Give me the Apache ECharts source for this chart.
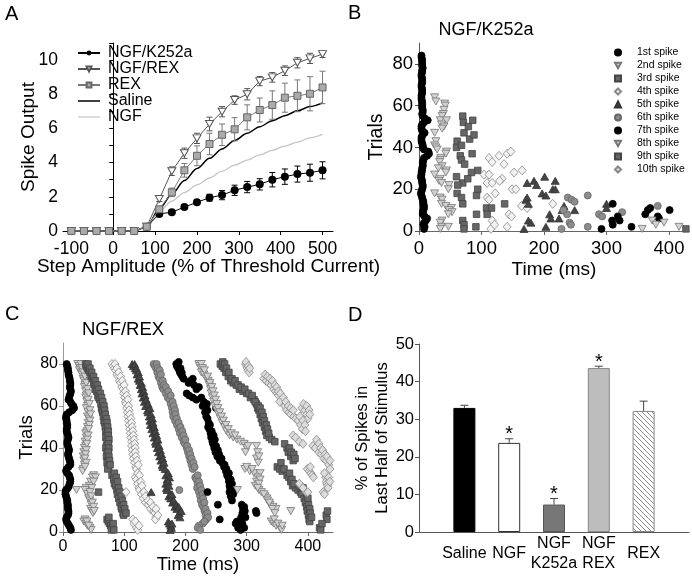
<!DOCTYPE html>
<html><head><meta charset="utf-8">
<script src="https://cdn.jsdelivr.net/npm/echarts@6/dist/echarts.min.js"></script>
<style>html,body{margin:0;padding:0;background:#fff}#c{width:692px;height:582px}</style>
</head><body><div id="c"></div><script>
// ---------- Panel A data ----------
const aX = [-100,-70,-40,-10,20,50,80,110,140,170,200,230,260,290,320,350,380,410,440,470,500];
const aK252a    = [0,0,0,0,0,0,0.25,1.0,1.1,1.4,1.68,1.95,2.1,2.38,2.57,2.73,3.0,3.18,3.33,3.41,3.55];
const aK252aErr = [0,0,0,0,0,0,0.05,0.08,0.08,0.1,0.12,0.2,0.27,0.3,0.33,0.33,0.42,0.45,0.47,0.5,0.5];
const aNgfRex    = [0,0,0,0,0,0,0.25,1.87,3.5,4.55,5.42,6.26,6.98,7.66,8.0,8.77,8.99,9.38,9.84,10.1,10.35];
const aNgfRexErr = [0,0,0,0,0,0,0.05,0.15,0.25,0.3,0.3,0.4,0.3,0.25,0.33,0.27,0.28,0.28,0.3,0.3,0.2];
const aRex    = [0,0,0,0,0,0,0.25,1.27,2.26,3.55,4.4,5.09,5.63,5.95,6.65,7.08,7.37,7.8,7.91,8.03,8.4];
const aRexErr = [0,0,0,0,0,0,0.05,0.1,0.25,0.4,0.58,0.63,0.63,0.68,0.73,0.7,0.83,0.85,0.93,1.0,0.95];
const aSaline = [0,0,0,0,0,0,0.25,1.3,2.15,2.95,3.65,4.25,4.8,5.3,5.72,6.1,6.45,6.75,7.03,7.28,7.5];
const aNgf    = [0,0,0,0,0,0,0.25,1.15,1.75,2.25,2.7,3.1,3.5,3.85,4.15,4.45,4.72,4.97,5.2,5.45,5.65];
const aXTicks = [-100,0,100,200,300,400,500];
const aYLabels = [0,2,4,6,8,10];
const aYTicks = [0,1,2,3,4,5,6,7,8,9,10,11];

// ---------- Panel B data (time ms, trial) ----------
const spikeNames = ['1st spike','2nd spike','3rd spike','4th spike','5th spike','6th spike','7th spike','8th spike','9th spike','10th spike'];
const bS1 = [[4,84],[4,83],[5,82],[5,81],[5,80],[5,79],[6,78],[5,77],[5,76],[4,75],[4,74],[5,73],[5,72],[5,71],[4,70],[4,69],[5,68],[5,67],[5,66],[4,65],[4,64],[4,63],[5,62],[5,61],[5,60],[5,59],[6,58],[6,57],[5,56],[6,55],[9,54],[14,53],[8,52],[5,51],[4,50],[4,49],[5,48],[9,47],[6,46],[4,45],[4,44],[4,43],[5,42],[6,41],[6,40],[8,39],[15,38],[16,37],[13,36],[8,35],[7,34],[6,33],[6,32],[6,31],[5,30],[5,29],[4,28],[4,27],[3,26],[4,25],[5,24],[5,23],[6,22],[6,21],[5,20],[4,19],[3,18],[4,17],[5,16],[6,15],[7,14],[7,13],[8,12],[8,11],[7,10],[6,9],[6,8],[9,7],[13,6],[11,5],[8,4],[7,3],[9,2],[8,1]];
const bS2 = [[25,64],[27,62],[41,61],[42,60],[40,58],[39,56],[37,55],[34,53],[44,53],[36,51],[40,50],[37,49],[25,47],[27,43],[25,41],[27,40],[29,39],[44,38],[43,37],[35,35],[34,34],[33,33],[37,31],[31,30],[44,29],[43,28],[25,27],[34,25],[32,24],[36,23],[48,22],[47,20],[25,18],[34,16],[37,15],[36,13],[43,12],[52,11],[48,10],[53,9],[47,8],[37,5],[34,4],[36,2],[34,1],[47,2]];
const bS3 = [[70,55],[71,52],[72,47],[81,44],[86,53],[88,46],[61,43],[60,40],[68,41],[79,50],[85,37],[66,36],[68,34],[73,32],[94,29],[84,28],[60,26],[70,23],[78,25],[62,22],[94,20],[61,18],[92,17],[68,16],[70,13],[108,11],[109,8],[116,11],[92,8],[70,5],[72,3],[91,2],[72,1],[137,13]];
const bS4 = [[112,35],[128,36],[141,37],[147,38],[117,33],[136,32],[152,28],[165,29],[104,27],[112,27],[133,25],[129,24],[109,23],[117,23],[149,20],[155,20],[122,18],[109,16],[112,15],[164,12],[173,11],[144,8],[148,7],[117,5],[115,1],[141,2],[121,3],[214,13]];
const bS5 = [[173,23],[184,24],[188,22],[201,26],[218,24],[197,18],[203,17],[214,20],[218,20],[171,15],[173,16],[175,13],[209,8],[211,6],[175,5],[179,4],[203,2],[168,1],[224,6],[232,12],[249,10],[229,10],[300,13],[300,11]];
const bS6 = [[228,1],[238,16],[244,15],[249,14],[241,4],[243,3],[270,17],[270,2],[288,8],[293,7],[325,9],[382,12],[237,8],[231,10]];
const bS7 = [[310,13],[309,5],[310,3],[321,5],[340,2],[292,1],[362,8],[366,10],[370,11],[382,7],[384,6],[401,10],[318,7]];
const bS8 = [[357,1],[373,5],[379,3],[392,4],[416,2]];
const bS9 = [[427,1]];
const bS10 = [];

// ---------- Panel C data (time ms, trial) ----------
const cS1 = [[6,80],[7,79],[8,78],[8,77],[9,76],[9,75],[10,74],[11,73],[11,72],[12,71],[12,70],[11,69],[12,68],[13,67],[12,66],[11,65],[10,64],[9,63],[12,62],[14,61],[17,60],[18,59],[15,58],[10,57],[6,56],[5,55],[5,54],[6,53],[6,52],[7,51],[7,50],[6,49],[6,48],[7,47],[8,46],[9,45],[8,44],[7,43],[7,42],[8,41],[9,40],[10,39],[9,38],[8,37],[9,36],[10,35],[11,34],[12,33],[12,32],[9,31],[6,30],[5,29],[7,28],[10,27],[11,26],[12,25],[12,24],[11,23],[10,22],[8,21],[5,20],[4,19],[4,18],[5,17],[6,16],[7,15],[7,14],[8,13],[8,12],[8,11],[9,10],[9,9],[8,8],[6,7],[5,6],[6,5],[8,4],[10,3],[12,2],[13,1]];
const cS2 = [[24,80],[26,79],[28,78],[27,77],[30,76],[31,75],[33,73],[34,72],[36,70],[35,69],[37,67],[38,65],[37,64],[39,62],[40,60],[38,59],[41,57],[40,55],[42,54],[41,52],[40,50],[39,48],[37,47],[38,45],[36,43],[37,41],[35,40],[34,38],[33,36],[34,34],[35,32],[33,30],[32,29],[50,27],[48,26],[45,24],[43,22],[38,21],[36,20],[22,20],[40,18],[42,16],[44,15],[46,13],[45,11],[47,10],[49,9],[36,6],[34,5],[38,4],[40,3],[44,2],[46,1],
  [29,80],[31,78],[33,76],[36,74],[38,71],[40,68],[42,66],[41,63],[43,61],[44,58],[45,56],[44,53],[43,51],[42,49],[41,46],[40,44],[39,42],[38,39],[37,37],[36,35],[38,33],[36,31],[53,26],[50,24],[47,21],[44,19],[46,17],[48,14],[50,12],[51,10],[39,5],[42,3]];
const cS3 = [[37,80],[38,79],[40,78],[42,77],[44,76],[46,74],[48,73],[50,71],[52,70],[53,68],[55,67],[57,65],[58,64],[60,63],[62,61],[63,59],[64,58],[65,57],[66,55],[67,53],[68,52],[69,50],[70,48],[71,46],[70,45],[72,43],[71,41],[70,40],[72,38],[71,36],[73,34],[72,33],[74,31],[73,30],[80,27],[83,25],[84,23],[86,22],[88,20],[58,19],[89,18],[91,16],[93,14],[95,12],[96,11],[98,9],[99,8],[72,6],[74,5],[76,4],[78,3],[80,2],[79,1],
  [41,80],[44,78],[47,76],[50,74],[53,72],[56,70],[58,68],[61,66],[63,64],[65,62],[67,60],[68,58],[69,56],[71,54],[72,52],[73,50],[74,48],[74,46],[75,44],[74,42],[75,40],[74,38],[75,36],[76,34],[77,32],[84,28],[87,26],[89,24],[91,21],[93,19],[95,17],[97,15],[99,13],[101,11],[103,9],[75,7],[82,4],[83,1]];
const cS4 = [[80,80],[82,79],[84,78],[86,77],[88,75],[90,74],[92,72],[94,71],[96,69],[98,68],[99,66],[101,64],[102,62],[103,61],[104,59],[105,57],[106,55],[107,53],[108,51],[109,49],[110,47],[111,45],[112,43],[112,41],[113,39],[114,37],[115,35],[117,33],[119,31],[120,30],[118,26],[120,25],[122,23],[124,21],[125,20],[103,19],[128,18],[131,16],[135,14],[139,13],[143,11],[148,10],[150,9],[152,7],[151,6],[114,6],[116,4],[120,2],[122,1],
  [85,80],[88,78],[91,76],[94,74],[97,72],[100,70],[102,67],[104,65],[106,63],[107,60],[108,58],[109,56],[111,54],[112,52],[113,50],[114,48],[115,46],[116,44],[117,42],[118,40],[118,38],[119,36],[121,34],[123,32],[122,28],[125,27],[127,24],[129,22],[132,19],[135,17],[139,15],[143,14],[147,12],[152,11],[155,8],[118,5],[124,3]];
const cS5 = [[113,80],[115,79],[118,78],[120,77],[121,75],[123,73],[125,72],[126,70],[128,68],[129,66],[131,64],[133,62],[135,60],[138,58],[139,57],[141,55],[142,53],[143,51],[145,49],[147,47],[149,45],[151,43],[152,42],[154,40],[156,38],[158,36],[160,34],[162,32],[163,31],[168,27],[170,25],[168,23],[169,21],[170,20],[144,19],[173,17],[176,16],[179,14],[183,12],[186,11],[190,9],[188,8],[172,5],[174,4],[176,3],[177,2],[175,1],
  [117,80],[120,78],[123,76],[125,74],[128,71],[130,69],[132,67],[134,65],[136,63],[139,61],[142,59],[144,56],[146,54],[147,52],[149,50],[151,48],[153,46],[155,44],[157,41],[159,39],[161,37],[163,35],[165,33],[167,30],[172,28],[174,26],[172,24],[173,22],[175,18],[178,18],[181,15],[185,13],[189,12],[193,10],[191,7],[178,4]];
const cS6 = [[148,80],[150,79],[152,78],[154,76],[156,74],[158,73],[160,71],[162,69],[164,68],[168,66],[171,64],[174,63],[176,61],[178,59],[179,57],[180,55],[183,53],[186,51],[189,49],[191,47],[194,45],[197,43],[199,42],[202,40],[204,38],[206,36],[208,34],[210,32],[212,30],[216,26],[218,25],[220,23],[219,21],[190,20],[222,19],[224,17],[225,15],[227,13],[229,12],[231,10],[233,8],[234,6],[228,4],[222,3],[220,2],[224,1],
  [153,80],[155,78],[158,77],[160,75],[163,72],[165,70],[168,69],[172,67],[176,65],[179,62],[181,60],[183,58],[184,56],[186,54],[189,52],[192,50],[195,48],[197,46],[200,44],[203,41],[206,39],[208,37],[210,35],[213,33],[215,31],[220,27],[222,24],[224,22],[226,20],[228,18],[229,16],[231,14],[233,11],[236,9],[237,7],[231,5]];
const cS7 = [[185,80],[186,79],[188,78],[190,77],[191,76],[193,75],[195,74],[212,73],[208,72],[205,71],[214,70],[222,69],[218,68],[202,66],[206,65],[212,64],[226,64],[218,63],[230,62],[235,61],[228,60],[250,59],[236,58],[232,57],[234,55],[236,54],[238,52],[237,50],[239,49],[241,47],[242,45],[244,43],[245,42],[247,40],[249,38],[252,36],[256,34],[260,33],[263,31],[266,29],[268,27],[270,26],[271,24],[272,22],[273,21],[272,19],[236,19],[274,17],[276,15],[253,13],[292,13],[294,11],[293,9],[315,10],[316,9],[295,8],[291,7],[256,6],[284,5],[282,4],[288,3],[296,2],[290,1],
  [189,81],[192,78],[194,76],[197,73],[240,51],[243,48],[246,46],[248,44],[250,41],[253,39],[255,37],[259,35],[264,32],[267,30],[271,28],[274,25],[276,23],[277,20],[278,18],[296,12],[297,10],[298,7],[293,4],[286,2]];
const cS8 = [[222,80],[223,79],[225,78],[226,76],[230,75],[234,73],[237,72],[239,70],[241,68],[242,66],[244,64],[246,62],[248,60],[251,58],[254,56],[257,54],[260,52],[264,50],[267,48],[272,46],[278,45],[284,44],[290,43],[296,42],[300,40],[298,38],[316,41],[318,38],[316,35],[297,30],[305,29],[312,28],[322,28],[318,26],[316,24],[314,22],[285,20],[320,20],[324,19],[330,17],[333,16],[338,13],[343,12],[348,11],[372,10],[340,5],[344,4],[348,3],[354,2],[357,1],
  [226,80],[228,78],[231,77],[236,74],[240,71],[243,69],[245,67],[247,65],[249,63],[251,61],[253,59],[256,57],[259,55],[262,53],[266,51],[270,49],[275,47],[281,46],[302,41],[320,36],[319,33],[300,31],[309,30],[322,25],[320,23],[318,21],[328,18],[334,15],[337,14],[342,11],[346,9],[345,6],[351,4],[358,3]];
const cS9 = [[257,80],[260,79],[263,78],[266,76],[270,74],[274,72],[278,71],[283,70],[288,68],[294,67],[300,66],[306,64],[312,63],[316,61],[318,59],[320,58],[322,56],[324,54],[326,52],[329,50],[331,48],[333,46],[337,45],[341,44],[346,43],[366,40],[368,38],[372,36],[376,34],[350,31],[354,30],[358,29],[366,27],[369,26],[372,24],[375,22],[380,21],[384,20],[388,19],[390,18],[394,16],[396,14],[398,12],[399,10],[401,8],[402,6],[403,5],[419,2],[421,1],[430,8],[431,6],
  [261,81],[264,80],[267,78],[271,76],[276,73],[281,72],[286,70],[291,69],[297,68],[303,66],[309,65],[314,62],[319,60],[322,59],[325,57],[327,55],[329,53],[332,51],[334,49],[336,47],[362,42],[370,40],[373,38],[377,37],[379,35],[356,33],[361,30],[370,28],[374,25],[377,23],[386,22],[392,21],[398,18],[400,16],[401,13],[403,11],[404,9],[406,7],[423,4],[432,10]];
const cS10 = [[298,80],[300,79],[301,78],[302,77],[304,76],[328,73],[332,72],[336,71],[340,70],[344,68],[347,67],[350,66],[352,65],[358,63],[354,62],[362,60],[365,58],[369,57],[372,56],[377,55],[380,54],[390,59],[395,58],[398,56],[400,54],[384,53],[388,51],[391,49],[376,46],[380,45],[386,43],[392,42],[408,41],[412,40],[418,38],[422,37],[426,35],[430,34],[434,32],[399,30],[402,29],[405,28],[407,27],[429,26],[430,24],[431,23],[432,22],[433,21],[386,23],[397,19],[425,19],[427,18],
  [299,81],[303,79],[305,78],[330,75],[334,74],[338,73],[342,72],[346,70],[349,69],[352,67],[355,66],[360,64],[364,62],[368,60],[372,59],[376,58],[393,61],[398,60],[402,58],[403,56],[387,55],[392,53],[395,51],[396,48],[414,44],[418,42],[421,40],[424,39],[428,37],[431,36],[436,34],[436,30],[404,31],[409,26],[427,28],[434,26],[436,24],[392,21],[400,19]];
const rasterXLabels = [0,100,200,300,400];
const rasterYLabels = [0,20,40,60,80];

// ---------- Panel D data ----------
const dCats = ['Saline','NGF','NGF\nK252a','NGF\nREX','REX'];
const dVals = [33.0,23.7,7.3,43.6,32.2];
const dErrTop = [33.7,24.8,8.9,44.1,34.8];
const dSig = [0,1,1,1,0];

// ---------- styles ----------
const FONT = '"Liberation Sans", Arial, Helvetica, sans-serif';
const TRI_DOWN = 'path://M0,0L10,0L5,9Z';
const spikeStyles = [
  {symbol:'circle', size:7, color:'#000', border:'#000'},
  {symbol:TRI_DOWN, size:[8,7], color:'#d2d2d2', border:'#777'},
  {symbol:'rect', size:6.5, color:'#666', border:'#444'},
  {symbol:'diamond', size:[8,9], color:'#f2f2f2', border:'#888'},
  {symbol:'triangle', size:[8,7], color:'#444', border:'#333'},
  {symbol:'circle', size:7, color:'#8c8c8c', border:'#666'},
  {symbol:'circle', size:7, color:'#000', border:'#000'},
  {symbol:TRI_DOWN, size:[8,7], color:'#d2d2d2', border:'#777'},
  {symbol:'rect', size:6.5, color:'#666', border:'#444'},
  {symbol:'diamond', size:[8,9], color:'#dcdcdc', border:'#888'}
];
const bData = [bS1,bS2,bS3,bS4,bS5,bS6,bS7,bS8,bS9,bS10];
const cData = [cS1,cS2,cS3,cS4,cS5,cS6,cS7,cS8,cS9,cS10];

// hatch pattern for REX bar
const pat = document.createElement('canvas');
pat.width = 5; pat.height = 5;
(function(){const g = pat.getContext('2d'); g.fillStyle='#fff'; g.fillRect(0,0,5,5);
 g.strokeStyle='#808080'; g.lineWidth=0.9; g.beginPath();
 g.moveTo(-1,-1); g.lineTo(6,6); g.moveTo(-1,4); g.lineTo(1,6); g.moveTo(4,-1); g.lineTo(6,1); g.stroke();})();
const dColors = [
  {color:'#000', borderColor:'#000'},
  {color:'#fff', borderColor:'#333'},
  {color:'#777', borderColor:'#555'},
  {color:'#bdbdbd', borderColor:'#888'},
  {color:{image:pat, repeat:'repeat'}, borderColor:'#888'}
];

const lbl = (size, extra) => Object.assign({color:'#000', fontSize:size, fontFamily:FONT}, extra||{});
const nameStyle = (size, extra) => Object.assign({color:'#000', fontSize:size, fontFamily:FONT}, extra||{});

function errA(color){
  return function(params, api){
    const x = api.value(0), y = api.value(1), e = api.value(2);
    if (!e) return null;
    const p1 = api.coord([x, y - e]), p2 = api.coord([x, y + e]);
    const w = 3, st = {stroke:color, lineWidth:1};
    return {type:'group', children:[
      {type:'line', shape:{x1:p1[0],y1:p1[1],x2:p2[0],y2:p2[1]}, style:st},
      {type:'line', shape:{x1:p1[0]-w,y1:p1[1],x2:p1[0]+w,y2:p1[1]}, style:st},
      {type:'line', shape:{x1:p2[0]-w,y1:p2[1],x2:p2[0]+w,y2:p2[1]}, style:st}
    ]};
  };
}
function errD(params, api){
  const i = api.value(0), top = api.value(1), et = api.value(2), sig = api.value(3);
  const p1 = api.coord([i, top]), p2 = api.coord([i, et]);
  const w = 4, st = {stroke:'#444', lineWidth:1};
  const ch = [
    {type:'line', shape:{x1:p1[0],y1:p1[1],x2:p2[0],y2:p2[1]}, style:st},
    {type:'line', shape:{x1:p2[0]-w,y1:p2[1],x2:p2[0]+w,y2:p2[1]}, style:st}
  ];
  if (sig) ch.push({type:'text', style:{text:'*', x:p1[0], y:p2[1]-4, align:'center', verticalAlign:'middle', fontSize:20, fontFamily:FONT, fill:'#000'}});
  return {type:'group', children:ch};
}
const rows = (ys) => aX.map((x,i) => [x, ys[i]]);
const errRows = (ys, es) => aX.map((x,i) => [x, ys[i], es[i]]);

const series = [
  {name:'Saline', type:'line', xAxisIndex:0, yAxisIndex:0, data:rows(aSaline), symbol:'circle', showSymbol:false, smooth:0.3, smoothMonotone:'x', lineStyle:{color:'#000', width:1.5}, itemStyle:{color:'#000'}, z:2},
  {name:'NGF', type:'line', xAxisIndex:0, yAxisIndex:0, data:rows(aNgf), symbol:'circle', showSymbol:false, smooth:0.3, smoothMonotone:'x', lineStyle:{color:'#c4c4c4', width:1.3}, itemStyle:{color:'#c4c4c4'}, z:2},
  {type:'custom', xAxisIndex:0, yAxisIndex:0, renderItem:errA('#000'), data:errRows(aK252a,aK252aErr), encode:{x:0,y:1}, z:3},
  {type:'custom', xAxisIndex:0, yAxisIndex:0, renderItem:errA('#555'), data:errRows(aNgfRex,aNgfRexErr), encode:{x:0,y:1}, z:3},
  {type:'custom', xAxisIndex:0, yAxisIndex:0, renderItem:errA('#777'), data:errRows(aRex,aRexErr), encode:{x:0,y:1}, z:3},
  {name:'NGF/K252a', type:'line', xAxisIndex:0, yAxisIndex:0, data:rows(aK252a), symbol:'circle', symbolSize:8, lineStyle:{color:'#000', width:1}, itemStyle:{color:'#000'}, z:4},
  {name:'NGF/REX', type:'line', xAxisIndex:0, yAxisIndex:0, data:rows(aNgfRex), symbol:TRI_DOWN, symbolSize:[8,7], lineStyle:{color:'#555', width:1}, itemStyle:{color:'#fff', borderColor:'#555', borderWidth:1}, z:4},
  {name:'REX', type:'line', xAxisIndex:0, yAxisIndex:0, data:rows(aRex), symbol:'rect', symbolSize:7, lineStyle:{color:'#777', width:1}, itemStyle:{color:'#aaa', borderColor:'#666', borderWidth:1}, z:5}
];
spikeStyles.forEach((s, k) => {
  series.push({name:spikeNames[k], type:'scatter', xAxisIndex:1, yAxisIndex:1, data:bData[k], symbol:s.symbol, symbolSize:s.size, itemStyle:{color:s.color, borderColor:s.border, borderWidth:0.8, opacity:1}});
});
spikeStyles.forEach((s, k) => {
  series.push({name:'C ' + spikeNames[k], type:'scatter', xAxisIndex:2, yAxisIndex:2, data:cData[k], symbol:s.symbol, symbolSize:s.size, itemStyle:{color:s.color, borderColor:s.border, borderWidth:0.8, opacity:1}});
});
series.push({type:'bar', xAxisIndex:4, yAxisIndex:4, barWidth:22, data:dVals.map((v,i)=>({value:v, itemStyle:Object.assign({borderWidth:1}, dColors[i])}))});
series.push({type:'custom', xAxisIndex:4, yAxisIndex:4, renderItem:errD, data:dVals.map((v,i)=>[i, v, dErrTop[i], dSig[i]]), encode:{x:0,y:1}, z:5});

const rasterX = (gi, max, size, margin, nameGap, nsize) => ({gridIndex:gi, type:'value', min:0, max:max,
  axisLine:{lineStyle:{color:'#666'}}, axisTick:{customValues:rasterXLabels, length:4, lineStyle:{color:'#666'}},
  axisLabel:lbl(size, {customValues:rasterXLabels, margin:margin}), splitLine:{show:false},
  name:'Time (ms)', nameLocation:'middle', nameGap:nameGap, nameMoveOverlap:false, nameTextStyle:nameStyle(nsize)});
const rasterY = (gi, axisColor, size, margin, nameGap, nsize) => ({gridIndex:gi, type:'value', min:0, max:90,
  axisLine:{show:true, lineStyle:{color:axisColor}}, axisTick:{show:true, customValues:rasterYLabels, length:4, lineStyle:{color:axisColor}},
  axisLabel:lbl(size, {customValues:rasterYLabels, margin:margin}), splitLine:{show:false},
  name:'Trials', nameLocation:'middle', nameGap:nameGap, nameMoveOverlap:false, nameRotate:90, nameTextStyle:nameStyle(nsize)});

const option = {
  animation:false,
  backgroundColor:'#fff',
  textStyle:{fontFamily:FONT},
  grid:[
    {left:63, top:43, width:270, height:188},
    {left:419, top:43, width:270, height:188},
    {left:63, top:343, width:270, height:189},
    {left:419, top:344, width:270, height:188},
    {left:442, top:344, width:224, height:188}
  ],
  xAxis:[
    {gridIndex:0, type:'value', min:-120, max:525, axisLine:{lineStyle:{color:'#000'}},
     axisTick:{customValues:aXTicks, length:4, lineStyle:{color:'#000'}}, axisLabel:lbl(17.5, {customValues:aXTicks, margin:9}),
     splitLine:{show:false}, name:'Step Amplitude (% of Threshold Current)', nameLocation:'middle', nameGap:26, nameMoveOverlap:false,
     nameTextStyle:nameStyle(19, {padding:[0,0,0,21]})},
    rasterX(1, 432, 18.5, 8, 29, 19),
    rasterX(2, 441, 16, 7, 23, 18.5),
    {gridIndex:3, type:'value', min:0, max:1, axisLine:{lineStyle:{color:'#555'}}, axisTick:{show:false}, axisLabel:{show:false}, splitLine:{show:false}},
    {gridIndex:4, type:'category', data:dCats, axisLine:{show:false}, axisTick:{show:false},
     axisLabel:lbl(16, {margin:22, verticalAlign:'middle', lineHeight:20, interval:0})}
  ],
  yAxis:[
    {gridIndex:0, type:'value', min:0, max:11, axisLine:{show:true, lineStyle:{color:'#000'}},
     axisTick:{show:true, customValues:aYTicks, length:4, lineStyle:{color:'#000'}}, axisLabel:lbl(17.5, {customValues:aYLabels, margin:5}),
     splitLine:{show:false}, name:'Spike Output', nameLocation:'middle', nameGap:25, nameMoveOverlap:false, nameRotate:90, nameTextStyle:nameStyle(19)},
    rasterY(1, '#555', 18.5, 6, 32, 19.5),
    rasterY(2, '#999', 16, 5, 27, 18.5),
    {gridIndex:3, type:'value', min:0, max:50, interval:10, axisLine:{show:true, lineStyle:{color:'#555'}},
     axisTick:{show:true, length:4, lineStyle:{color:'#555'}}, axisLabel:lbl(16.5, {margin:5}), splitLine:{show:false},
     name:'% of Spikes in\nLast Half of Stimulus', nameLocation:'middle', nameGap:27, nameMoveOverlap:false, nameRotate:90, nameTextStyle:nameStyle(16.5, {lineHeight:20})},
    {gridIndex:4, type:'value', min:0, max:50, show:false}
  ],
  legend:[
    {data:[{name:'NGF/K252a'},{name:'NGF/REX'},{name:'REX'},
           {name:'Saline', icon:'path://M0,0H22V1.5H0Z'},{name:'NGF', icon:'path://M0,0H22V1.2H0Z'}],
     orient:'vertical', left:77, top:45, padding:0, itemWidth:22, itemHeight:6, itemGap:0,
     selectedMode:false, textStyle:{fontSize:16, lineHeight:16, color:'#000', fontFamily:FONT, padding:[0,0,0,3]}},
    {data:spikeNames, orient:'vertical', left:614, top:46.5, padding:0, itemWidth:6, itemHeight:6, itemGap:1,
     selectedMode:false, textStyle:{fontSize:10.5, lineHeight:12, color:'#000', fontFamily:FONT, padding:[0,0,0,11]}}
  ],
  graphic:[
    {type:'text', x:5, y:14, style:{text:'A', fontSize:20, fontFamily:FONT, fill:'#000', verticalAlign:'middle'}},
    {type:'text', x:348, y:13, style:{text:'B', fontSize:20, fontFamily:FONT, fill:'#000', verticalAlign:'middle'}},
    {type:'text', x:5, y:314, style:{text:'C', fontSize:20, fontFamily:FONT, fill:'#000', verticalAlign:'middle'}},
    {type:'text', x:348, y:315, style:{text:'D', fontSize:20, fontFamily:FONT, fill:'#000', verticalAlign:'middle'}},
    {type:'text', x:486, y:30, style:{text:'NGF/K252a', fontSize:18, fontFamily:FONT, fill:'#000', align:'center', verticalAlign:'middle'}},
    {type:'text', x:123, y:330, style:{text:'NGF/REX', fontSize:18.5, fontFamily:FONT, fill:'#000', align:'center', verticalAlign:'middle'}}
  ],
  series:series
};
const chart = echarts.init(document.getElementById('c'), null, {renderer:'canvas'});
chart.setOption(option);
</script></body></html>
